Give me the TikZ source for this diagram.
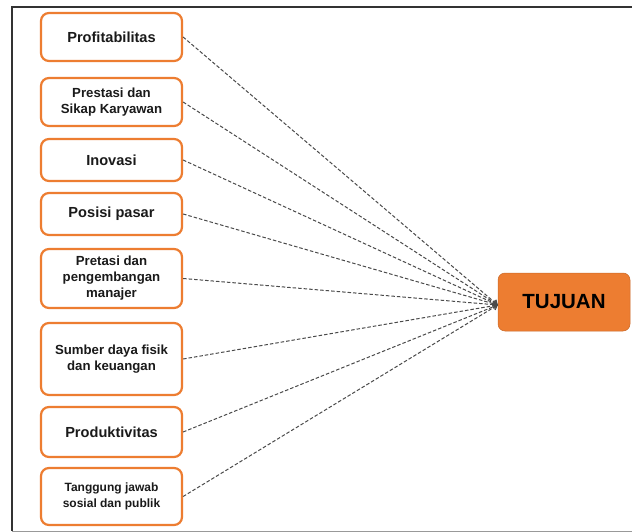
\documentclass[tikz,border=0pt]{standalone}
\usepackage{fontspec}
\setmainfont{Liberation Sans}
\usetikzlibrary{arrows.meta}
\definecolor{boxorange}{HTML}{ED7D31}
\definecolor{txt}{HTML}{1A1A1A}
\definecolor{linkgray}{HTML}{4A4A4A}
\tikzset{
  factor/.style={draw=boxorange, line width=2.2pt, fill=white, rounded corners=8pt,
    minimum width=141pt, inner sep=0pt, align=center, text=txt, font=\bfseries},
  goal/.style={draw=boxorange!85!black, line width=0.5pt, fill=boxorange, rounded corners=7pt,
    minimum width=132pt, minimum height=58pt, inner sep=0pt, text=black,
    font=\fontsize{20.5}{24}\selectfont\bfseries},
  link/.style={draw=linkgray, line width=1pt, dash pattern=on 3.5pt off 2pt,
    -{Straight Barb[length=4pt,width=6pt,line width=0.8pt]}},
  big/.style={font=\fontsize{14.6}{17}\selectfont\bfseries},
  mid/.style={font=\fontsize{13.2}{16}\selectfont\bfseries},
  small/.style={font=\fontsize{12}{16}\selectfont\bfseries}
}
\begin{document}
\begin{tikzpicture}[x=1pt,y=-1pt]
  \useasboundingbox (0,0) rectangle (632,532);
  \fill[white] (0,0) rectangle (632,532);
  % frame
  \draw[draw=black!80, line width=1.4pt] (632,7) -- (12,7) -- (12,531);
  \draw[draw=black!40, line width=1pt] (12,531) -- (632,531);

  % factor boxes
  \node[factor, big, minimum height=48pt] (f1) at (111.5,37) {Profitabilitas};
  \node[factor, mid, minimum height=48pt] (f2) at (111.5,102) {Prestasi dan\\Sikap Karyawan};
  \node[factor, big, minimum height=42pt] (f3) at (111.5,160) {Inovasi};
  \node[factor, big, minimum height=42pt] (f4) at (111.5,214) {Posisi pasar};
  \node[factor, mid, minimum height=59pt] (f5) at (111.5,278.5) {Pretasi dan\\pengembangan\\manajer};
  \node[factor, mid, minimum height=72pt] (f6) at (111.5,359) {Sumber daya fisik\\dan keuangan};
  \node[factor, big, minimum height=50pt] (f7) at (111.5,432) {Produktivitas};
  \node[factor, small, minimum height=57pt] (f8) at (111.5,496.5) {Tanggung jawab\\sosial dan publik};

  % goal box
  \node[goal] (goal) at (564,302) {TUJUAN};
  \coordinate (tip) at ([yshift=-3pt]goal.west);

  % dashed links
  \foreach \f in {f1,f2,f3,f4,f5,f6,f7,f8}
    \draw[link] (\f.east) -- (tip);
\end{tikzpicture}
\end{document}
